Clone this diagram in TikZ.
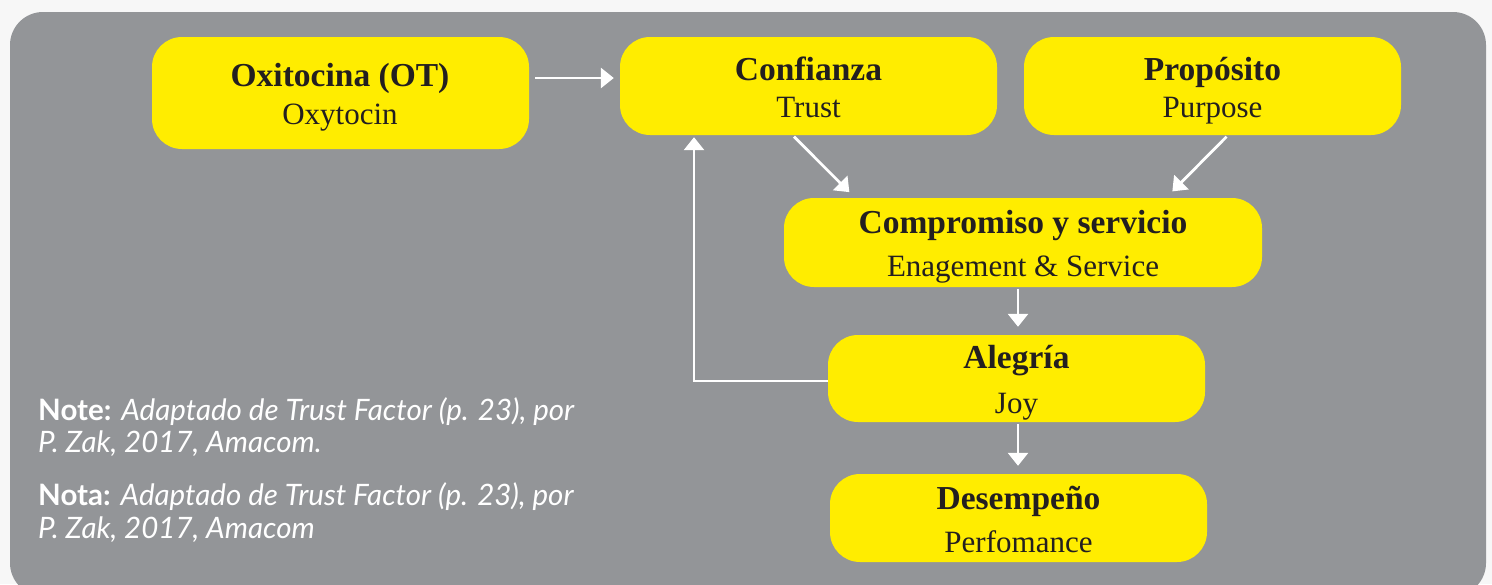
\documentclass[tikz,border=0pt]{standalone}
\usepackage{fontspec}
\setmainfont{Liberation Serif}
\newfontfamily\notefont{Lato}
\usetikzlibrary{arrows.meta}
\definecolor{panelgray}{HTML}{939598}
\definecolor{boxyellow}{HTML}{FFED00}
\definecolor{inktext}{HTML}{231F20}
\definecolor{pagebg}{HTML}{F7F7F7}
\begin{document}
\begin{tikzpicture}[x=1pt,y=-1pt,
  box/.style={fill=boxyellow, rounded corners=30pt, minimum width=377pt, inner sep=0pt},
  ttl/.style={anchor=base, text=inktext, inner sep=0pt, font=\fontsize{33.5}{40}\selectfont\bfseries},
  sub/.style={anchor=base, text=inktext, inner sep=0pt, font=\fontsize{31}{38}\selectfont},
  arr/.style={draw=white, line width=2.8pt, -{Triangle[length=13pt,width=20pt]}},
  note/.style={anchor=base west, text=white, font=\notefont\fontsize{29.5}{34}\selectfont, inner sep=0pt}]
\useasboundingbox (0,0) rectangle (1492,584);
\fill[pagebg] (0,0) rectangle (1492,584);
\begin{scope}
\clip (0,0) rectangle (1492,584);
\fill[panelgray, rounded corners=33pt] (10,12) rectangle (1486,596);
\end{scope}
% boxes
\node[box, minimum height=112pt] (ox) at (340.5,93) {};
\node[box, minimum height=98pt] (conf) at (808.5,86) {};
\node[box, minimum height=98pt] (prop) at (1212.5,86) {};
\node[box, minimum height=89pt, minimum width=478pt] (comp) at (1023,242.5) {};
\node[box, minimum height=87pt] (aleg) at (1016.5,378.5) {};
\node[box, minimum height=88pt] (des) at (1018.5,518) {};
% texts
\node[ttl] (oxt) at (340,86) {Oxitocina (OT)};
\node[sub] (oxs) at (340,124) {Oxytocin};
\node[ttl] (conft) at (808.5,80) {Confianza};
\node[sub] (confs) at (808.5,117) {Trust};
\node[ttl] (propt) at (1212.5,80) {Propósito};
\node[sub] (props) at (1212.5,117) {Purpose};
\node[ttl] (compt) at (1023,233) {Compromiso y servicio};
\node[sub] (comps) at (1023,276) {Enagement \& Service};
\node[ttl] (alegt) at (1016.5,368) {Alegría};
\node[sub] (alegs) at (1016.5,413) {Joy};
\node[ttl] (dest) at (1018.5,509) {Desempeño};
\node[sub] (dess) at (1018.5,552) {Perfomance};
% arrows
\draw[arr, shorten <=6pt, shorten >=6pt] ([yshift=15pt]ox.east) -- ([yshift=15pt]ox.east -| conf.west);
\draw[arr, shorten <=2pt, shorten >=8pt] ([xshift=-16pt]conf.south) -- ([xshift=-168pt]comp.north);
\draw[arr, shorten <=2pt, shorten >=9pt] ([xshift=15.5pt]prop.south) -- ([xshift=143pt]comp.north);
\draw[arr, shorten <=2pt, shorten >=8pt] ([xshift=-5pt]comp.south) -- ([xshift=-5pt]comp.south |- aleg.north);
\draw[arr, shorten <=2pt, shorten >=8pt] ([xshift=1.5pt]aleg.south) -- ([xshift=1.5pt]aleg.south |- des.north);
\draw[arr, shorten >=2pt] ([yshift=-2.5pt]aleg.west) -| ([xshift=-114.5pt]conf.south);
% notes
\node[note] (n1) at (38,420) {\textbf{Note:} \textit{Adaptado de Trust Factor (p. 23), por}};
\node[note] (n2) at (38,452) {\textit{P. Zak, 2017, Amacom.}};
\node[note] (n3) at (38,505) {\textbf{Nota:} \textit{Adaptado de Trust Factor (p. 23), por}};
\node[note] (n4) at (38,538) {\textit{P. Zak, 2017, Amacom}};
\end{tikzpicture}
\end{document}
